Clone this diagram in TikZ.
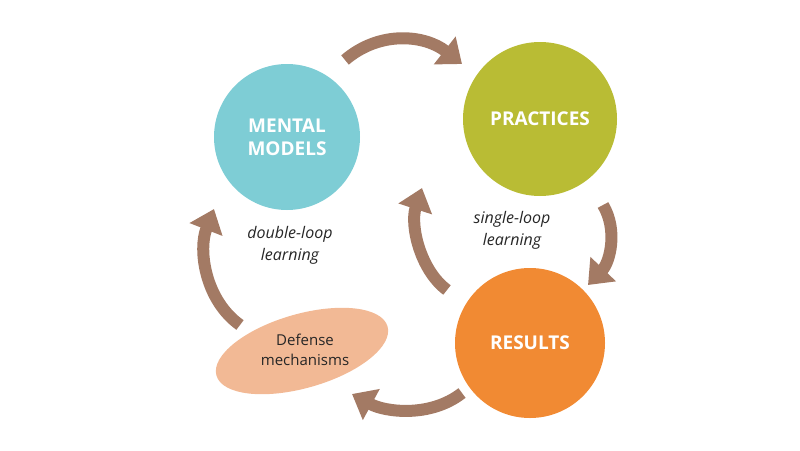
\documentclass[tikz,border=0pt]{standalone}
\usepackage{fontspec}
\setmainfont{Open Sans}
\usetikzlibrary{arrows.meta,shapes.geometric}
\definecolor{cteal}{HTML}{7ECDD5}
\definecolor{colive}{HTML}{B9BC34}
\definecolor{corange}{HTML}{F18A33}
\definecolor{cpeach}{HTML}{F2B995}
\definecolor{cbrown}{HTML}{A37A64}
\begin{document}
\begin{tikzpicture}[x=1pt,y=-1pt,
  blob/.style={circle,inner sep=0pt,text=white,font=\bfseries\fontsize{19}{23}\selectfont,align=center},
  loop/.style={draw=cbrown,line width=12pt,-{Triangle[width=34pt,length=22pt]}},
  lbl/.style={font=\itshape\fontsize{16}{22}\selectfont,align=center,text=black!85}]
\useasboundingbox (0,0) rectangle (800,450);
\node[blob,fill=cteal,minimum size=146pt] (mm) at (287,137) {MENTAL\\MODELS};
\node[blob,fill=colive,minimum size=154pt] (pr) at (540,119) {PRACTICES};
\node[blob,fill=corange,minimum size=150pt] (re) at (530,343) {RESULTS};
\node[ellipse,fill=cpeach,minimum width=178pt,minimum height=74pt,rotate=16] (dm) at (302,351) {};
\node[align=center,font=\fontsize{15}{20}\selectfont,text=black!85] (dmt) at (305,350) {Defense\\mechanisms};
\coordinate (t1) at (345,60); \coordinate (t2) at (462,64);
\coordinate (r1) at (603,205); \coordinate (r2) at (588,285);
\coordinate (b1) at (462,393); \coordinate (b2) at (352,394);
\coordinate (l1) at (240,325); \coordinate (l2) at (214,209);
\coordinate (i1) at (447,290); \coordinate (i2) at (422,188);
\draw[loop] (t1) .. controls (380,30) and (425,35) .. (t2);
\draw[loop] (r1) .. controls (618,230) and (610,262) .. (r2);
\draw[loop] (b1) .. controls (430,418) and (385,412) .. (b2);
\draw[loop] (l1) .. controls (205,300) and (198,250) .. (l2);
\draw[loop] (i1) .. controls (420,270) and (410,225) .. (i2);
\node[lbl] (dl) at (290,245) {double-loop\\learning};
\node[lbl] (sl) at (512,230) {single-loop\\learning};
\end{tikzpicture}
\end{document}
